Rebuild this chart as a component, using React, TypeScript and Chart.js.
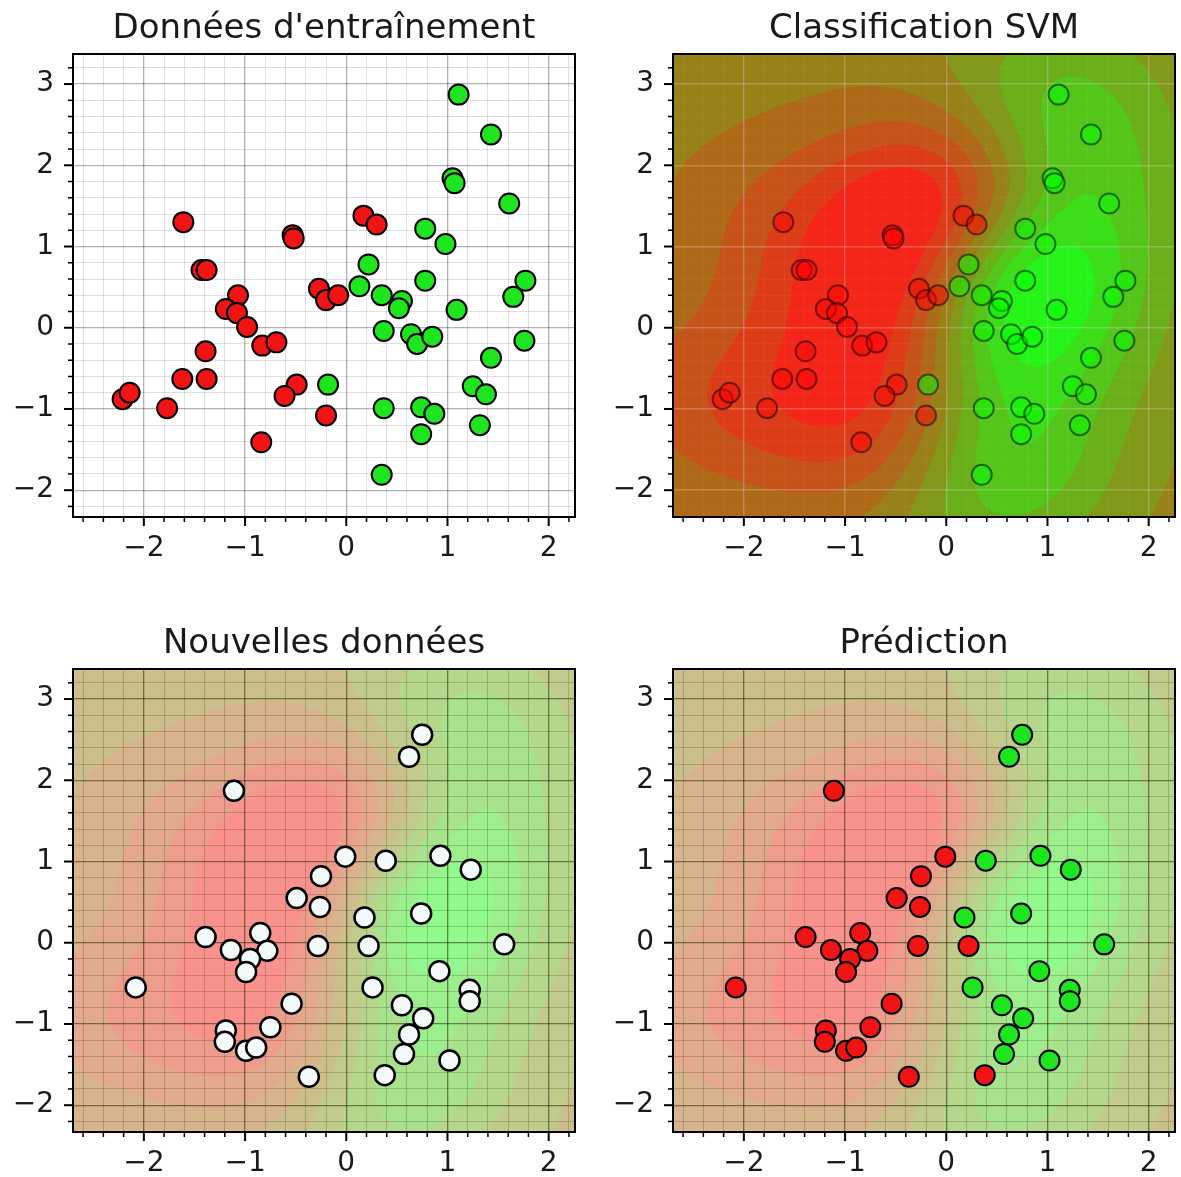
import React, { useEffect, useRef } from 'react';
import { Chart, registerables } from 'chart.js';

Chart.register(...registerables);

const FONT = "'DejaVu Sans', 'Liberation Sans', sans-serif";

// ---- axis setup ----
const xMinMax = [-2.7, 2.26];
const yMinMax = [-2.33, 3.37];
const xTickValues = [-2, -1, 0, 1, 2];
const xTickLabels = ['−2', '−1', '0', '1', '2'];
const yTickValues = [-2, -1, 0, 1, 2, 3];
const yTickLabels = ['−2', '−1', '0', '1', '2', '3'];

const panelTitles = ["Données d'entraînement", 'Classification SVM', 'Nouvelles données', 'Prédiction'];

// ---- training data ----
const trainRedX = [-1.61, -0.53, -0.52, -1.43, -1.38, -1.07, -1.19, -1.08, -0.98, -0.83, -0.69, -1.39, -1.62, -1.38, -2.21, -2.14, -1.77, -0.49, -0.61, -0.20, -0.84, -0.27, -0.20, -0.08, 0.17, 0.30];
const trainRedY = [1.30, 1.14, 1.10, 0.71, 0.71, 0.40, 0.23, 0.18, 0.01, -0.22, -0.18, -0.29, -0.63, -0.63, -0.88, -0.80, -0.99, -0.70, -0.84, -1.08, -1.41, 0.48, 0.34, 0.40, 1.38, 1.27];
const trainGreenX = [1.11, 1.43, 1.05, 1.07, 1.61, 0.78, 0.98, 0.22, 0.13, 0.35, 0.55, 0.52, 0.78, 1.09, 1.77, 1.65, 0.37, 0.64, 0.70, 0.85, 1.76, 1.43, 1.25, 1.38, -0.18, 0.37, 0.74, 0.87, 1.32, 0.74, 0.35];
const trainGreenY = [2.87, 2.38, 1.84, 1.78, 1.53, 1.22, 1.03, 0.78, 0.51, 0.40, 0.33, 0.24, 0.58, 0.22, 0.58, 0.38, -0.04, -0.08, -0.20, -0.11, -0.16, -0.37, -0.72, -0.82, -0.70, -0.99, -0.98, -1.06, -1.20, -1.31, -1.81];

// ---- new data and predicted class (0 = red, 1 = green) ----
const newX = [0.75, 0.62, -1.11, -0.01, 0.39, 0.93, 1.23, -0.25, -0.49, -0.26, 0.74, 0.18, -1.39, -0.85, -1.14, -0.78, -0.95, -0.99, -0.28, 0.22, 1.56, 0.92, -2.08, 0.26, 1.22, 1.22, -0.54, 0.55, 0.76, -0.75, -1.19, -1.20, -0.99, -0.89, 0.62, 0.57, 1.02, -0.37, 0.38];
const newY = [2.56, 2.29, 1.87, 1.06, 1.01, 1.07, 0.90, 0.82, 0.55, 0.44, 0.36, 0.31, 0.07, 0.12, -0.09, -0.10, -0.20, -0.36, -0.04, -0.04, -0.02, -0.35, -0.55, -0.55, -0.58, -0.72, -0.75, -0.77, -0.93, -1.04, -1.08, -1.22, -1.33, -1.29, -1.13, -1.37, -1.45, -1.65, -1.63];
const newPred = [1, 1, 0, 0, 1, 1, 1, 0, 0, 0, 1, 1, 0, 0, 0, 0, 0, 0, 0, 0, 1, 1, 0, 1, 1, 1, 0, 1, 1, 0, 0, 0, 0, 0, 1, 1, 1, 0, 0];

// RBF-SVM settings used for the decision surface
const GAMMA = 0.7;
const SVM_C = 2;
const SAT_RED = 5;
const SAT_GREEN = 5.5;

const isMajor = (v: number) => Math.abs(v - Math.round(v)) < 1e-6;
const labelFor = (v: number, vals: number[], labels: string[]) => {
  if (!isMajor(v)) return '';
  const i = vals.indexOf(Math.round(v));
  return i >= 0 ? labels[i] : '';
};

function toPts(xs: number[], ys: number[]) {
  return xs.map((x, i) => ({ x, y: ys[i] }));
}

// ---- train a small RBF SVM (dual coordinate ascent, bias folded into kernel) ----
let svmCache: { coef: number[]; px: number[]; py: number[]; b: number } | null = null;
function trainSvm() {
  if (svmCache) return svmCache;
  const px = [...trainRedX, ...trainGreenX];
  const py = [...trainRedY, ...trainGreenY];
  const lab = [...trainRedX.map(() => -1), ...trainGreenX.map(() => 1)];
  const n = px.length;
  const K: number[][] = [];
  for (let i = 0; i < n; i++) {
    K.push([]);
    for (let j = 0; j < n; j++) {
      K[i].push(Math.exp(-GAMMA * ((px[i] - px[j]) ** 2 + (py[i] - py[j]) ** 2)) + 1);
    }
  }
  const a = new Array(n).fill(0);
  for (let ep = 0; ep < 4000; ep++) {
    for (let i = 0; i < n; i++) {
      let f = 0;
      for (let j = 0; j < n; j++) f += a[j] * lab[j] * K[i][j];
      let na = a[i] - (lab[i] * f - 1) / K[i][i];
      if (na < 0) na = 0;
      if (na > SVM_C) na = SVM_C;
      a[i] = na;
    }
  }
  const coef = a.map((v, i) => v * lab[i]);
  const b = coef.reduce((s, v) => s + v, 0);
  svmCache = { coef, px, py, b };
  return svmCache;
}

function fieldImage(chart: any, alpha: number) {
  const { left, top, right, bottom } = chart.chartArea;
  const W = Math.round(right - left);
  const H = Math.round(bottom - top);
  const sx = chart.scales.x;
  const sy = chart.scales.y;
  const { coef, px, py, b } = trainSvm();
  const n = px.length;
  const colV = new Float64Array(W);
  const rowV = new Float64Array(H);
  for (let c = 0; c < W; c++) colV[c] = sx.getValueForPixel(left + c + 0.5);
  for (let r = 0; r < H; r++) rowV[r] = sy.getValueForPixel(top + r + 0.5);
  const f = new Float64Array(W * H).fill(b);
  const ex = new Float64Array(W);
  for (let i = 0; i < n; i++) {
    if (coef[i] === 0) continue;
    for (let c = 0; c < W; c++) ex[c] = Math.exp(-GAMMA * (colV[c] - px[i]) ** 2);
    for (let r = 0; r < H; r++) {
      const e = coef[i] * Math.exp(-GAMMA * (rowV[r] - py[i]) ** 2);
      const o = r * W;
      for (let c = 0; c < W; c++) f[o + c] += ex[c] * e;
    }
  }
  let mn = Infinity, mx = -Infinity;
  for (let k = 0; k < f.length; k++) {
    if (f[k] < mn) mn = f[k];
    if (f[k] > mx) mx = f[k];
  }
  const sR = Math.max(1e-9, (b - mn) / SAT_RED);
  const sG = Math.max(1e-9, (mx - b) / SAT_GREEN);
  const band = (v: number) => {
    if (v >= b - 0.5 * sR && v <= b + 0.5 * sG) return 4;
    if (v > b) return Math.min(9, 5 + Math.floor((v - b - 0.5 * sG) / sG));
    return Math.max(0, 3 - Math.floor((b - 0.5 * sR - v) / sR));
  };
  const off = document.createElement('canvas');
  off.width = W;
  off.height = H;
  const octx = off.getContext('2d')!;
  const img = octx.createImageData(W, H);
  for (let k = 0; k < f.length; k++) {
    const t = (band(f[k]) + 0.5) / 10;
    img.data[k * 4] = alpha * 255 * (1 - t) + (1 - alpha) * 255;
    img.data[k * 4 + 1] = alpha * 255 * t + (1 - alpha) * 255;
    img.data[k * 4 + 2] = (1 - alpha) * 255;
    img.data[k * 4 + 3] = 255;
  }
  octx.putImageData(img, 0, 0);
  return off;
}

const decoPlugin = {
  id: 'panelDeco',
  beforeDraw(chart: any, _a: any, opts: any) {
    const { ctx, chartArea } = chart;
    ctx.save();
    ctx.fillStyle = '#ffffff';
    ctx.fillRect(0, 0, chart.width, chart.height);
    if (opts.field) {
      ctx.drawImage(fieldImage(chart, opts.alpha), chartArea.left, chartArea.top);
    }
    ctx.restore();
  },
  afterDraw(chart: any, _a: any, opts: any) {
    const { ctx, chartArea } = chart;
    const { left, top, right, bottom } = chartArea;
    ctx.save();
    ctx.strokeStyle = '#000';
    for (const t of chart.scales.x.ticks) {
      const major = isMajor(t.value);
      const p = chart.scales.x.getPixelForValue(t.value);
      ctx.lineWidth = major ? 2 : 1.5;
      ctx.beginPath();
      ctx.moveTo(p, bottom);
      ctx.lineTo(p, bottom + (major ? 9 : 5));
      ctx.stroke();
    }
    for (const t of chart.scales.y.ticks) {
      const major = isMajor(t.value);
      const p = chart.scales.y.getPixelForValue(t.value);
      ctx.lineWidth = major ? 2 : 1.5;
      ctx.beginPath();
      ctx.moveTo(left, p);
      ctx.lineTo(left - (major ? 9 : 5), p);
      ctx.stroke();
    }
    ctx.lineWidth = 2;
    ctx.strokeRect(left, top, right - left, bottom - top);
    ctx.fillStyle = '#1a1a1a';
    ctx.font = `34px ${FONT}`;
    ctx.textAlign = 'center';
    ctx.textBaseline = 'alphabetic';
    ctx.fillText(opts.title, (left + right) / 2, top - 16);
    ctx.restore();
  },
};

type GridStyle = { major: string; minor: string; majorW: number; minorW: number };

function makeScale(axis: 'x' | 'y', grid: GridStyle) {
  const isX = axis === 'x';
  return {
    type: 'linear',
    min: isX ? xMinMax[0] : yMinMax[0],
    max: isX ? xMinMax[1] : yMinMax[1],
    afterFit: (s: any) => {
      if (isX) s.height = 45;
      else s.width = 73;
    },
    ticks: {
      stepSize: 0.2,
      maxTicksLimit: 40,
      includeBounds: false,
      autoSkip: false,
      maxRotation: 0,
      minRotation: 0,
      padding: isX ? 15 : 19,
      color: '#1a1a1a',
      font: { family: FONT, size: 28 },
      callback: (v: number) => (isX ? labelFor(v, xTickValues, xTickLabels) : labelFor(v, yTickValues, yTickLabels)),
    },
    grid: {
      drawTicks: false,
      color: (c: any) => (c.tick && isMajor(c.tick.value) ? grid.major : grid.minor),
      lineWidth: (c: any) => (c.tick && isMajor(c.tick.value) ? grid.majorW : grid.minorW),
    },
    border: { display: false },
  };
}

type PanelCfg = {
  title: string;
  datasets: any[];
  field: boolean;
  alpha: number;
  grid: GridStyle;
};

function ptDs(pts: { x: number; y: number }[], fill: string, border: string, bw: number) {
  return {
    data: pts,
    showLine: false,
    pointRadius: 10,
    pointHoverRadius: 10,
    pointBackgroundColor: fill,
    pointBorderColor: border,
    pointBorderWidth: bw,
    backgroundColor: fill,
    borderColor: border,
  };
}

const RED = '#f21414';
const GREEN = '#1ee61e';

const panels: PanelCfg[] = [
  {
    title: panelTitles[0],
    datasets: [ptDs(toPts(trainRedX, trainRedY), RED, '#000', 2), ptDs(toPts(trainGreenX, trainGreenY), GREEN, '#000', 2)],
    field: false,
    alpha: 0,
    grid: { major: 'rgba(0,0,0,0.3)', minor: 'rgba(0,0,0,0.12)', majorW: 1.3, minorW: 1 },
  },
  {
    title: panelTitles[1],
    datasets: [
      ptDs(toPts(trainRedX, trainRedY), 'rgba(255,0,0,0.5)', 'rgba(0,0,0,0.5)', 2),
      ptDs(toPts(trainGreenX, trainGreenY), 'rgba(0,255,0,0.5)', 'rgba(0,0,0,0.5)', 2),
    ],
    field: true,
    alpha: 0.9,
    grid: { major: 'rgba(235,210,210,0.3)', minor: 'rgba(255,255,255,0.04)', majorW: 1.4, minorW: 1 },
  },
  {
    title: panelTitles[2],
    datasets: [ptDs(toPts(newX, newY), '#f4fafa', '#000', 2.5)],
    field: true,
    alpha: 0.45,
    grid: { major: 'rgba(40,40,10,0.55)', minor: 'rgba(40,40,10,0.22)', majorW: 1.3, minorW: 1 },
  },
  {
    title: panelTitles[3],
    datasets: [
      ptDs(toPts(newX.filter((_, i) => newPred[i] === 0), newY.filter((_, i) => newPred[i] === 0)), RED, '#000', 2),
      ptDs(toPts(newX.filter((_, i) => newPred[i] === 1), newY.filter((_, i) => newPred[i] === 1)), GREEN, '#000', 2),
    ],
    field: true,
    alpha: 0.45,
    grid: { major: 'rgba(40,40,10,0.55)', minor: 'rgba(40,40,10,0.22)', majorW: 1.3, minorW: 1 },
  },
];

const CW = 590;
const CH = 562;

function Panel({ cfg, left, top }: { cfg: PanelCfg; left: number; top: number }) {
  const ref = useRef<HTMLCanvasElement>(null);
  useEffect(() => {
    const chart = new Chart(ref.current as HTMLCanvasElement, {
      type: 'scatter',
      data: { datasets: cfg.datasets },
      options: {
        responsive: false,
        animation: false,
        devicePixelRatio: 1,
        events: [],
        layout: { padding: { left: 0, right: 15, top: 54, bottom: 0 } },
        plugins: {
          legend: { display: false },
          tooltip: { enabled: false },
          title: { display: false },
          panelDeco: { title: cfg.title, field: cfg.field, alpha: cfg.alpha },
        } as any,
        scales: {
          x: makeScale('x', cfg.grid) as any,
          y: makeScale('y', cfg.grid) as any,
        },
      },
      plugins: [decoPlugin as any],
    });
    return () => chart.destroy();
  }, []);
  return (
    <canvas
      ref={ref}
      width={CW}
      height={CH}
      style={{ position: 'absolute', left, top, width: CW, height: CH }}
    />
  );
}

export default function App() {
  return (
    <div style={{ position: 'absolute', left: 0, top: 0, width: 1181, height: 1177, background: '#fff', overflow: 'hidden' }}>
      <Panel cfg={panels[0]} left={0} top={0} />
      <Panel cfg={panels[1]} left={600} top={0} />
      <Panel cfg={panels[2]} left={0} top={615} />
      <Panel cfg={panels[3]} left={600} top={615} />
    </div>
  );
}
